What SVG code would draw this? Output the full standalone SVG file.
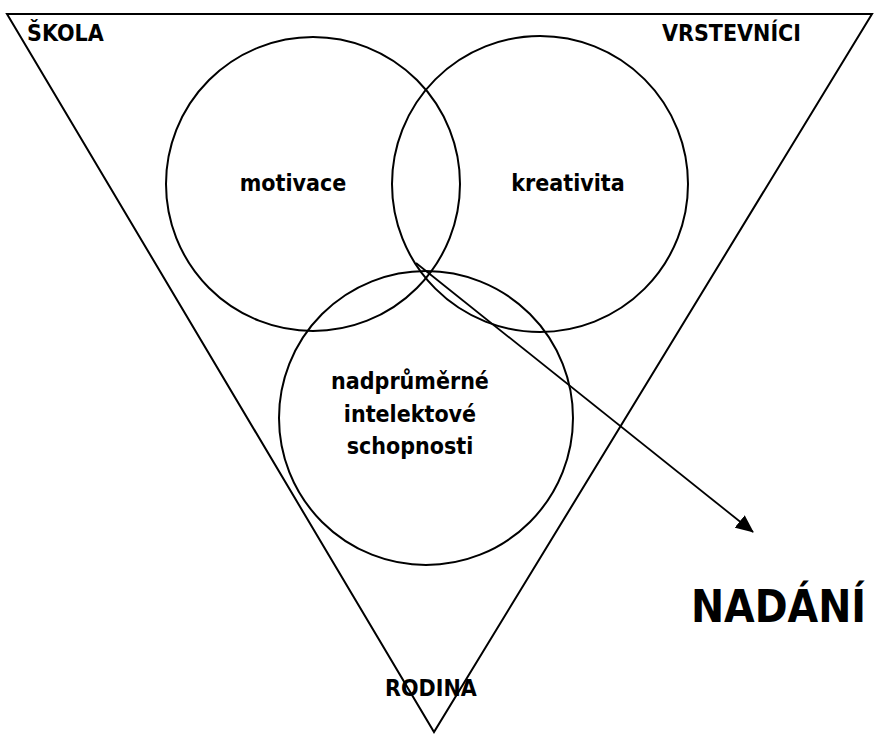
<svg xmlns="http://www.w3.org/2000/svg" width="877" height="734" viewBox="0 0 877 734">
<style>
.s{fill:none;stroke:#000;stroke-width:2}
.t{font-family:"DejaVu Sans Condensed","DejaVu Sans",sans-serif;font-weight:bold;font-size:23px;fill:#000}
</style>
<defs>
<marker id="ah" markerWidth="18" markerHeight="16" refX="17" refY="8" orient="auto" markerUnits="userSpaceOnUse" viewBox="0 0 18 16">
<path d="M0,0 L18,8 L0,16 z" fill="#000"/>
</marker>
</defs>
<rect width="877" height="734" fill="#fff"/>
<g id="triangle"><polygon class="s" points="7,14 872,14 434,732"/></g>
<g id="skola"><text class="t" x="27" y="41">ŠKOLA</text></g>
<g id="vrstevnici"><text class="t" x="801" y="41" text-anchor="end">VRSTEVNÍCI</text></g>
<g id="rodina"><text class="t" x="385" y="696">RODINA</text></g>
<g id="motivace"><circle class="s" cx="313" cy="184" r="147"/><text class="t" x="293" y="191" text-anchor="middle">motivace</text></g>
<g id="kreativita"><circle class="s" cx="540" cy="184" r="148"/><text class="t" x="568" y="191" text-anchor="middle">kreativita</text></g>
<g id="intelekt"><circle class="s" cx="426" cy="418" r="147"/>
<text class="t" text-anchor="middle"><tspan x="410" y="389">nadprůměrné</tspan><tspan x="410" y="422">intelektové</tspan><tspan x="410" y="454">schopnosti</tspan></text></g>
<g id="nadani"><text class="t" x="866" y="622" text-anchor="end" style="font-size:44px">NADÁNÍ</text></g>
<g id="connectors"><line class="s" x1="416" y1="263" x2="753" y2="532" style="stroke-width:1.8" marker-end="url(#ah)"/></g>
</svg>
